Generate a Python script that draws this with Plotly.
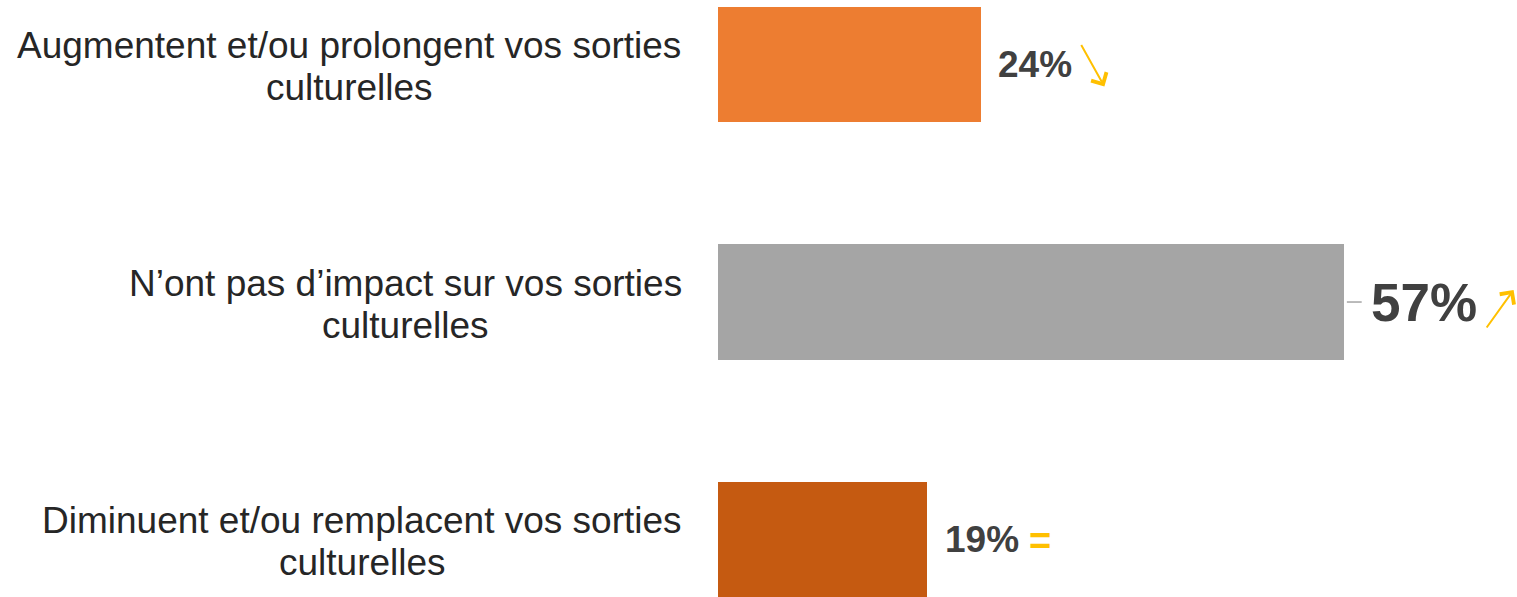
import plotly.graph_objects as go

categories = [
    "Augmentent et/ou prolongent vos sorties|culturelles",
    "N’ont pas d’impact sur vos sorties|culturelles",
    "Diminuent et/ou remplacent vos sorties|culturelles",
]
values = [24, 57, 19]
value_labels = ["24%", "57%", "19%"]
trend_symbols = ["down", "up", "equal"]

bar_colors = ["#ED7D31", "#A5A5A5", "#C55A11"]
label_sizes = [37, 53, 37]
label_gaps = [15, 25, 16]
label_centers_px = [349, 405, 362]

W, H = 1517, 597
ypos = list(range(len(categories)))

fig = go.Figure()
fig.add_trace(go.Bar(
    x=values, y=ypos, orientation="h",
    marker=dict(color=bar_colors, line=dict(width=0)),
    width=0.485, hoverinfo="skip",
))

annotations = []
shapes = []
for i, (cat, v, lab, tr) in enumerate(zip(categories, values, value_labels, trend_symbols)):
    l1, l2 = cat.split("|")
    cx = label_centers_px[i] / W
    annotations.append(dict(x=cx, xref="paper", y=i, yref="y", yshift=19,
                            text=l1, showarrow=False, xanchor="center", yanchor="middle",
                            font=dict(family="Liberation Sans, Arial", size=37, color="#262626")))
    annotations.append(dict(x=cx, xref="paper", y=i, yref="y", yshift=-23,
                            text=l2, showarrow=False, xanchor="center", yanchor="middle",
                            font=dict(family="Liberation Sans, Arial", size=37, color="#262626")))
    annotations.append(dict(x=v, xref="x", y=i, yref="y", xshift=label_gaps[i], yshift=0,
                            text="<b>%s</b>" % lab, showarrow=False, xanchor="left", yanchor="middle",
                            font=dict(family="Liberation Sans, Arial", size=label_sizes[i], color="#404040")))

# trend markers (decorations placed after the value labels)
annotations.append(dict(x=values[0], xref="x", y=0, yref="y", xshift=123, yshift=-22,
                        ax=-24, ay=-43, axref="pixel", ayref="pixel",
                        text="", showarrow=True, arrowhead=4, arrowsize=1.7, arrowwidth=2,
                        arrowcolor="#FFC000"))
annotations.append(dict(x=values[1], xref="x", y=1, yref="y", xshift=170, yshift=12,
                        ax=-28, ay=39, axref="pixel", ayref="pixel",
                        text="", showarrow=True, arrowhead=4, arrowsize=1.7, arrowwidth=2,
                        arrowcolor="#FFC000"))
annotations.append(dict(x=values[2], xref="x", y=2, yref="y", xshift=100, yshift=-1,
                        text="<b>=</b>", showarrow=False, xanchor="left", yanchor="middle",
                        font=dict(family="Liberation Sans, Arial", size=38, color="#FFC000")))

# small leader dash before the big label
shapes.append(dict(type="line", xref="x", yref="y", x0=values[1] + 0.3, x1=values[1] + 1.65,
                   y0=1, y1=1, line=dict(color="#A5A5A5", width=1.5)))

fig.update_layout(
    width=W, height=H,
    margin=dict(l=0, r=0, t=0, b=0),
    paper_bgcolor="white", plot_bgcolor="white",
    showlegend=False,
    bargap=0,
    xaxis=dict(domain=[718 / W, 1], range=[0, 72.8], visible=False, fixedrange=True),
    yaxis=dict(range=[2.242, -0.2716], visible=False, fixedrange=True),
    annotations=annotations, shapes=shapes,
)

fig.write_html("out.html")
